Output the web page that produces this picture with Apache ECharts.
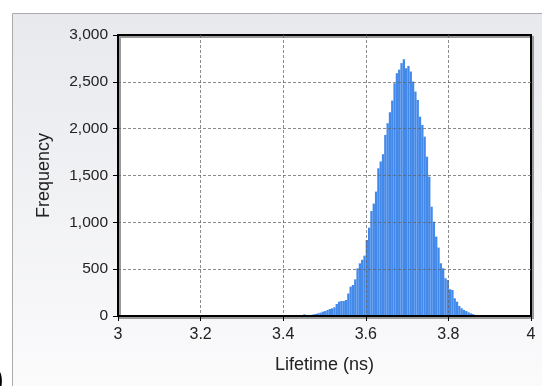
<!DOCTYPE html>
<html>
<head>
<meta charset="utf-8">
<script src="https://cdn.jsdelivr.net/npm/echarts@6/dist/echarts.min.js"></script>
<style>
  html, body { margin: 0; padding: 0; background: #fff; }
  #main { width: 542px; height: 386px; }
</style>
</head>
<body>
<div id="main"></div>
<script>
// histogram bins (ns)
var binStart = 3.4485;
var binWidth = 0.0056;
var counts = [
  18, 0, 0, 12, 18, 22, 29, 36, 47, 53,
  64, 75, 82, 93, 128, 153, 160, 160, 171, 240,
  313, 331, 391, 509, 562, 600, 644, 811, 943, 1121,
  1200, 1328, 1577, 1650, 1727, 1933, 2058, 2175, 2300, 2485,
  2592, 2630, 2700, 2741, 2645, 2670, 2610, 2503, 2396, 2307,
  2128, 2040, 1915, 1701, 1488, 1167, 1007, 847, 730, 563,
  509, 403, 384, 285, 278, 189, 153, 107, 82, 64,
  53, 39, 28, 20, 11
];
var xTicks = [3, 3.2, 3.4, 3.6, 3.8, 4];
var yTicks = [0, 500, 1000, 1500, 2000, 2500, 3000];

var bins = counts.map(function (c, i) {
  var lo = binStart + i * binWidth;
  return [lo, lo + binWidth, c];
});

var myChart = echarts.init(document.getElementById('main'));

function renderBar(params, api) {
  var top = api.coord([api.value(0), api.value(2)]);
  var base = api.coord([api.value(1), 0]);
  return {
    type: 'rect',
    shape: { x: top[0], y: top[1], width: base[0] - top[0], height: base[1] - top[1] },
    style: { fill: '#4289ea' }
  };
}

var labelStyle = { color: '#222', fontFamily: 'Liberation Sans, Arial, sans-serif' };
var gridLine = { color: 'rgba(100,100,100,0.75)', type: [3, 2], width: 1 };

myChart.setOption({
  animation: false,
  graphic: [
    {
      type: 'rect', z: -10, silent: true,
      shape: { x: 12.5, y: 13.5, width: 540, height: 380 },
      style: {
        stroke: '#aaaaaa', lineWidth: 1,
        fill: {
          type: 'linear', x: 0, y: 0, x2: 0, y2: 1,
          colorStops: [{ offset: 0, color: '#e8e9ed' }, { offset: 1, color: '#fbfbfc' }]
        }
      }
    },
    {
      type: 'text', left: -6, top: 366, silent: true,
      style: { text: ')', fontSize: 28, fontWeight: 'bold', fill: '#000', fontFamily: 'Liberation Sans, Arial, sans-serif' }
    }
  ],
  grid: {
    left: 118, right: 11, top: 35, bottom: 70,
    show: true,
    backgroundColor: '#fff',
    borderColor: '#000',
    borderWidth: 2,
    shadowColor: '#9a9a9a',
    shadowOffsetX: 2,
    shadowOffsetY: 2,
    shadowBlur: 0
  },
  xAxis: {
    type: 'value',
    min: xTicks[0],
    max: xTicks[xTicks.length - 1],
    interval: 0.2,
    z: 5,
    name: 'Lifetime (ns)',
    nameLocation: 'middle',
    nameGap: 40,
    nameTextStyle: Object.assign({ fontSize: 18 }, labelStyle),
    axisLine: { show: true, onZero: false, lineStyle: { color: '#000', width: 2 } },
    axisTick: { show: true, length: 5, lineStyle: { color: '#000' } },
    axisLabel: Object.assign({ fontSize: 16, margin: 11 }, labelStyle),
    splitLine: { show: true, showMinLine: false, showMaxLine: false, lineStyle: gridLine }
  },
  yAxis: {
    type: 'value',
    min: yTicks[0],
    max: yTicks[yTicks.length - 1],
    interval: 500,
    z: 5,
    name: 'Frequency',
    nameLocation: 'middle',
    nameGap: 65,
    nameTextStyle: Object.assign({ fontSize: 18 }, labelStyle),
    axisLine: { show: true, lineStyle: { color: '#000', width: 2 } },
    axisTick: { show: true, length: 5, lineStyle: { color: '#000' } },
    axisLabel: Object.assign({
      fontSize: 15.5, margin: 10,
      formatter: function (v) { return v.toLocaleString('en-US'); }
    }, labelStyle),
    splitLine: { show: true, showMinLine: false, showMaxLine: false, lineStyle: gridLine }
  },
  series: [{
    type: 'custom',
    z: 1,
    renderItem: renderBar,
    encode: { x: [0, 1], y: 2 },
    data: bins
  }]
});
</script>
</body>
</html>
